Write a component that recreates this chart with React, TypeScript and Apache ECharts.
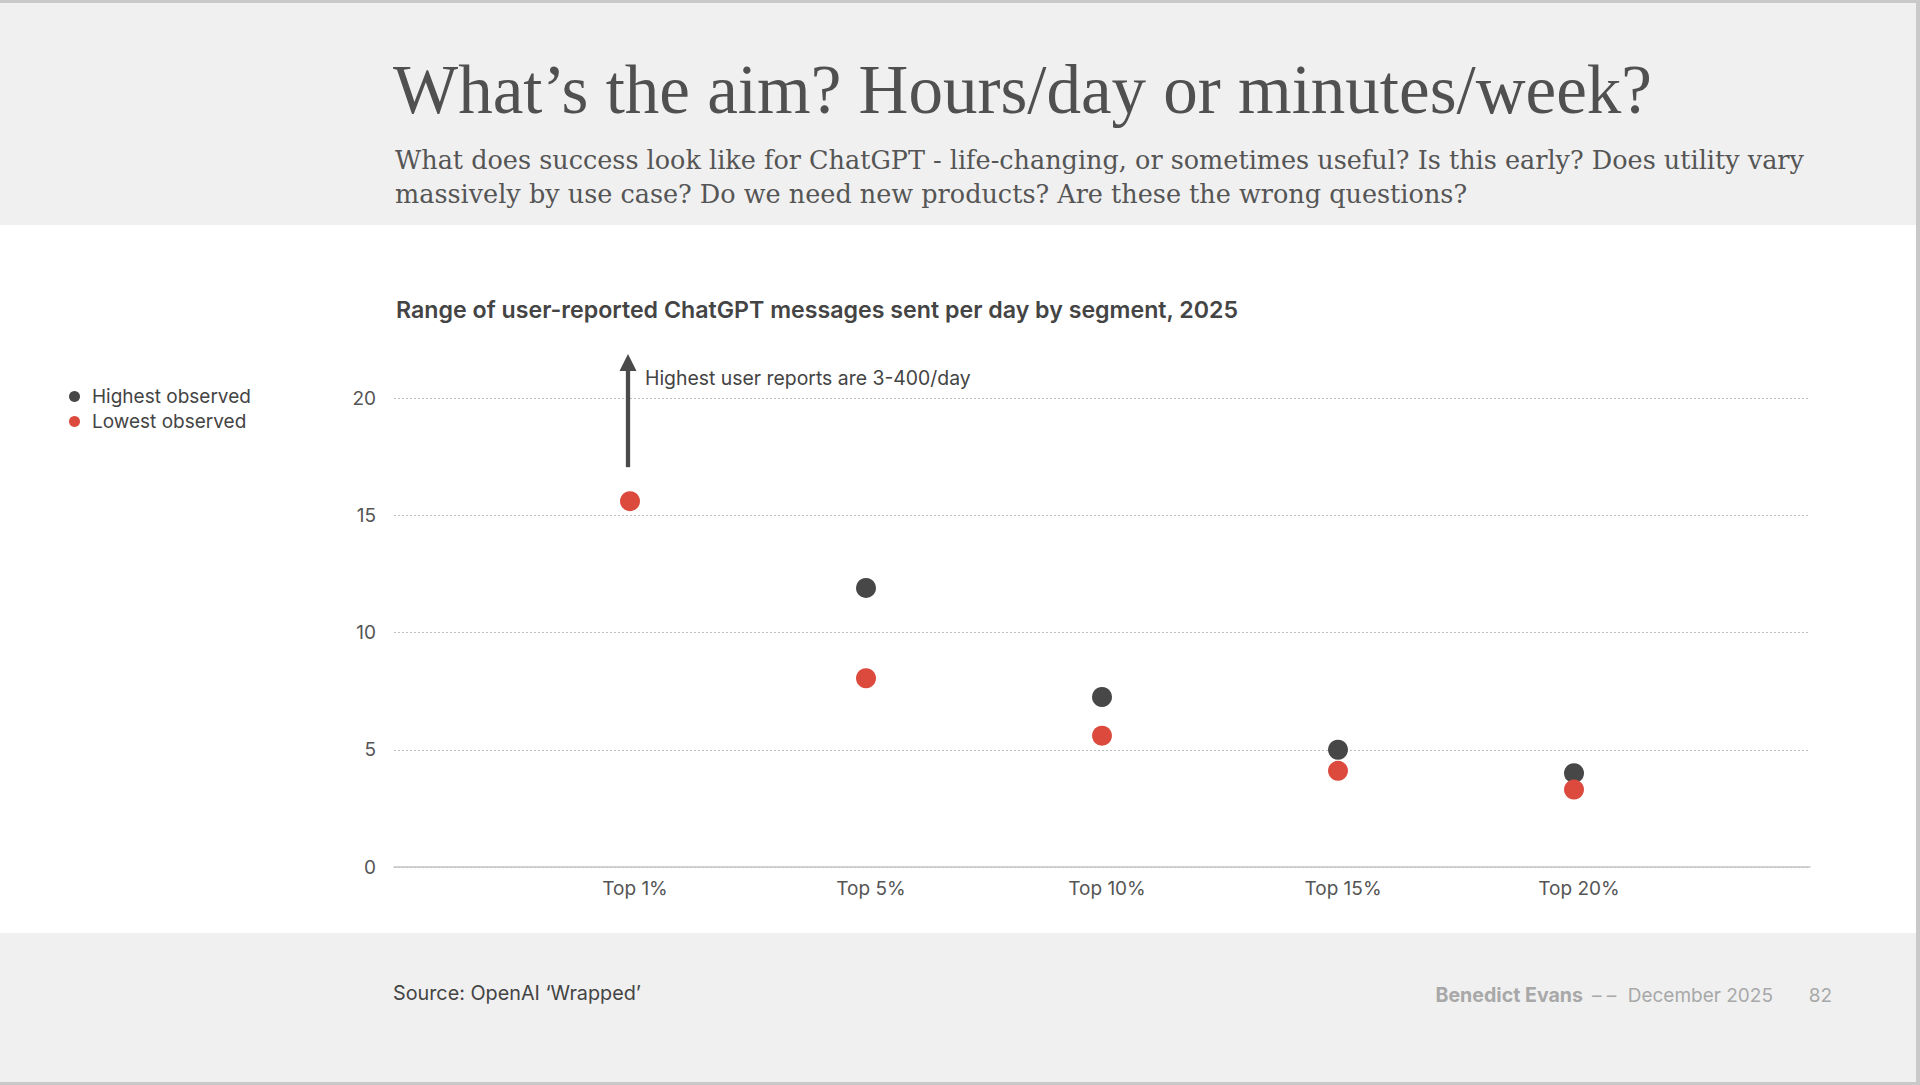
import React, { useEffect, useRef } from "react";
import * as echarts from "echarts";

const categories = ["Top 1%", "Top 5%", "Top 10%", "Top 15%", "Top 20%"];
const highestObserved: (number | null)[] = [null, 11.9, 7.25, 5.0, 4.0];
const lowestObserved: (number | null)[] = [15.6, 8.05, 5.6, 4.1, 3.3];
const yMin = 0;
const yMax = 20;
const yInterval = 5;

const title = "What’s the aim? Hours/day or minutes/week?";
const subtitleLines = [
  "What does success look like for ChatGPT - life-changing, or sometimes useful? Is this early? Does utility vary",
  "massively by use case? Do we need new products? Are these the wrong questions?",
];
const chartTitle = "Range of user-reported ChatGPT messages sent per day by segment, 2025";
const annotation = "Highest user reports are 3-400/day";
const source = "Source: OpenAI ‘Wrapped’";

const SANS = "Inter, 'Noto Sans', sans-serif";
const SERIF = "'Liberation Serif', serif";
const SERIF2 = "'DejaVu Serif', serif";
const DARK = "#474747";
const RED = "#dc4a3d";

export default function App() {
  const ref = useRef<HTMLDivElement>(null);
  useEffect(() => {
    document.body.style.margin = "0";
    const chart = echarts.init(ref.current!, null, { renderer: "svg" });
    const axisData = ["", ...categories, ""];
    const pad = (arr: (number | null)[]) => [null, ...arr, null];
    const option: any = {
      animation: false,
      backgroundColor: "#ffffff",
      grid: { left: 394, right: 110, top: 398, bottom: 218, containLabel: false },
      legend: {
        orient: "vertical",
        left: 64,
        top: 382,
        icon: "circle",
        itemWidth: 11,
        itemHeight: 11,
        itemGap: 6,
        textStyle: { fontFamily: SANS, fontSize: 19, color: "#444", padding: [0, 0, 0, 7] },
        data: ["Highest observed", "Lowest observed"],
      },
      xAxis: {
        type: "category",
        data: axisData,
        boundaryGap: false,
        axisLine: { lineStyle: { color: "#c4c4c4", width: 1.5 } },
        axisTick: { show: false },
        axisLabel: { interval: 0, fontFamily: SANS, fontSize: 19, color: "#555", margin: 12, padding: [0, 0, 0, 10] },
        splitLine: { show: false },
      },
      yAxis: {
        type: "value",
        min: yMin,
        max: yMax,
        interval: yInterval,
        axisLine: { show: false },
        axisTick: { show: false },
        axisLabel: { fontFamily: SANS, fontSize: 19, color: "#555", margin: 18 },
        splitLine: { lineStyle: { color: "#bdbdbd", type: [2, 2], width: 1 } },
      },
      series: [
        {
          name: "Highest observed",
          type: "scatter",
          data: pad(highestObserved),
          symbolSize: 20,
          itemStyle: { color: DARK, opacity: 1 },
          z: 3,
        },
        {
          name: "Lowest observed",
          type: "scatter",
          data: pad(lowestObserved),
          symbolSize: 20,
          itemStyle: { color: RED, opacity: 1 },
          z: 4,
        },
      ],
    };
    chart.setOption(option);

    const base = chart.convertToPixel({ gridIndex: 0 }, [1, 17.05]) as number[];
    const tip = chart.convertToPixel({ gridIndex: 0 }, [1, 21.88]) as number[];
    const ax = base[0] - 2;

    const txt = (text: string, x: number, y: number, font: string, fill: string, align = "left") => ({
      type: "text",
      x,
      y,
      style: { text, font, fill, verticalAlign: "middle", align },
    });

    chart.setOption({
      graphic: [
        { type: "rect", z: -10, shape: { x: 0, y: 0, width: 1920, height: 225 }, style: { fill: "#f0f0f0" } },
        { type: "rect", z: -10, shape: { x: 0, y: 933, width: 1920, height: 152 }, style: { fill: "#f0f0f0" } },
        { type: "rect", z: -9, shape: { x: 0, y: 0, width: 1920, height: 3 }, style: { fill: "#c9c9c9" } },
        { type: "rect", z: -9, shape: { x: 1916, y: 0, width: 4, height: 1085 }, style: { fill: "#c9c9c9" } },
        { type: "rect", z: -9, shape: { x: 0, y: 1082, width: 1920, height: 3 }, style: { fill: "#c9c9c9" } },
        txt(title, 393, 90, `normal 69px ${SERIF}`, "#505050"),
        txt(subtitleLines[0], 395, 160, `normal 25.5px ${SERIF2}`, "#555"),
        txt(subtitleLines[1], 395, 194, `normal 25.5px ${SERIF2}`, "#555"),
        txt(chartTitle, 396, 310, `600 23.2px ${SANS}`, "#444"),
        {
          type: "line",
          shape: { x1: ax, y1: base[1], x2: ax, y2: tip[1] + 16 },
          style: { stroke: "#4a4a4a", lineWidth: 4.3 },
          z: 5,
        },
        {
          type: "polygon",
          shape: { points: [[ax, tip[1]], [ax - 8.5, tip[1] + 17], [ax + 8.5, tip[1] + 17]] },
          style: { fill: "#4a4a4a" },
          z: 5,
        },
        txt(annotation, ax + 17, tip[1] + 24, `normal 19.4px ${SANS}`, "#444"),
        txt(source, 393, 993, `normal 19.8px ${SANS}`, "#444"),
        txt("Benedict Evans", 1583, 995, `bold 19.6px ${SANS}`, "#a8a8a8", "right"),
        txt("– –", 1592, 995, `normal 19px ${SANS}`, "#a8a8a8"),
        txt("December 2025", 1773, 995, `normal 19px ${SANS}`, "#a8a8a8", "right"),
        txt("82", 1832, 995, `normal 19px ${SANS}`, "#a8a8a8", "right"),
      ],
    });
    return () => chart.dispose();
  }, []);
  return <div ref={ref} style={{ position: "fixed", left: 0, top: 0, width: 1920, height: 1085 }} />;
}
